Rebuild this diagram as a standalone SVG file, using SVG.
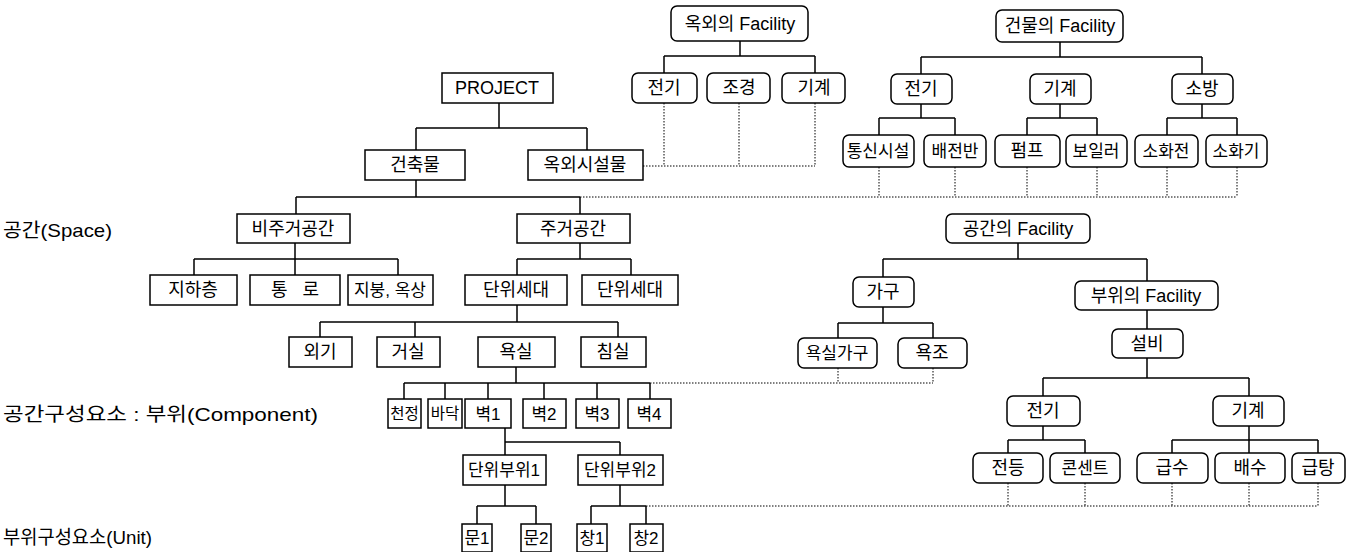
<svg xmlns="http://www.w3.org/2000/svg" width="1367" height="552" viewBox="0 0 1367 552">
<style>
.b{fill:#fff;stroke:#000;stroke-width:1.5}
.t{font-family:"Liberation Sans","Noto Sans CJK KR",sans-serif;font-size:18px;text-anchor:middle;fill:#000}
.sm{font-size:17px}
.xs{font-size:15.5px}
.l{font-family:"Liberation Sans","Noto Sans CJK KR",sans-serif;font-size:19px;fill:#000}
.s{fill:none;stroke:#000;stroke-width:1.5}
.d{fill:none;stroke:#000;stroke-width:1;stroke-dasharray:1.5 1.5}
</style>
<rect width="1367" height="552" fill="#fff"/>
<g id="labels">
<text class="l" x="3" y="237" textLength="109" lengthAdjust="spacingAndGlyphs">공간(Space)</text>
<text class="l" x="3" y="421" textLength="315" lengthAdjust="spacingAndGlyphs">공간구성요소 : 부위(Component)</text>
<text class="l" x="3" y="544" textLength="149" lengthAdjust="spacingAndGlyphs">부위구성요소(Unit)</text>
</g>
<g id="connectors">
<path class="s" d="M740 41V56M664 56H815M664 56V73M815 56V73"/>
<path class="s" d="M1060 42V57M921 57H1202M921 57V74M1202 57V74"/>
<path class="s" d="M921 104V118M879 118H955M879 118V135M955 118V135"/>
<path class="s" d="M1060 104V118M1027 118H1097M1027 118V135M1097 118V135"/>
<path class="s" d="M1202 104V118M1167 118H1237M1167 118V135M1237 118V135"/>
<path class="s" d="M499 103V128M416 128H587M416 128V150M587 128V150"/>
<path class="s" d="M416 180V197M296 197H580M296 197V214M580 197V214"/>
<path class="s" d="M295 243V259M194 259H398M194 259V275M295 259V275M398 259V275"/>
<path class="s" d="M580 243V259M517 259H631M517 259V275M631 259V275"/>
<path class="s" d="M517 305V322M320 322H618M320 322V337M415 322V337M618 322V337"/>
<path class="s" d="M516 367V383M404 383H650M404 383V399M445 383V399M488 383V399M544 383V399M597 383V399M650 383V399"/>
<path class="s" d="M505 428V442M505 442H620M505 442V455M620 442V455"/>
<path class="s" d="M505 485V506M477 506H536M477 506V524M536 506V524"/>
<path class="s" d="M620 485V506M591 506H646M591 506V524M646 506V524"/>
<path class="s" d="M1018 243V259M883 259H1147M883 259V277M1147 259V281"/>
<path class="s" d="M883 307V323M838 323H933M838 323V338M933 323V338"/>
<path class="s" d="M1147 310V329M1147 358V378M1043 378H1249M1043 378V396M1249 378V396"/>
<path class="s" d="M1043 426V440M1008 440H1085M1008 440V453M1085 440V453"/>
<path class="s" d="M1249 426V440M1172 440H1318M1172 440V453M1249 440V453M1318 440V453"/>
<path class="d" d="M664 103V166M739 103V166M815 103V166M643 166H815"/>
<path class="d" d="M879 167V197M955 167V197M1027 167V197M1097 167V197M1167 167V197M1237 167V197M580 197H1237"/>
<path class="d" d="M838 368V383M933 368V383M650 383H933"/>
<path class="d" d="M1008 483V506M1085 483V506M1172 483V506M1249 483V506M1318 483V506M646 506H1318"/>
</g>
<g id="n_outdoor_facility"><rect class="b" x="671" y="6" width="137" height="35" rx="6"/><text class="t" x="740" y="30">옥외의 Facility</text></g>
<g id="n_building_facility"><rect class="b" x="996" y="10" width="127" height="32" rx="6"/><text class="t" x="1060" y="32">건물의 Facility</text></g>
<g id="n_project"><rect class="b" x="442" y="73" width="111" height="30"/><text class="t" x="497" y="94">PROJECT</text></g>
<g id="n_o_elec"><rect class="b" x="632" y="73" width="65" height="30" rx="6"/><text class="t" x="664" y="94">전기</text></g>
<g id="n_o_land"><rect class="b" x="707" y="73" width="63" height="30" rx="6"/><text class="t" x="739" y="94">조경</text></g>
<g id="n_o_mech"><rect class="b" x="782" y="73" width="63" height="30" rx="6"/><text class="t" x="814" y="94">기계</text></g>
<g id="n_b_elec"><rect class="b" x="891" y="74" width="61" height="30" rx="6"/><text class="t" x="921" y="95">전기</text></g>
<g id="n_b_mech"><rect class="b" x="1030" y="74" width="61" height="30" rx="6"/><text class="t" x="1060" y="95">기계</text></g>
<g id="n_b_fire"><rect class="b" x="1172" y="74" width="61" height="30" rx="6"/><text class="t" x="1202" y="95">소방</text></g>
<g id="n_comm"><rect class="b" x="843" y="135" width="71" height="32" rx="6"/><text class="t sm" x="878" y="157">통신시설</text></g>
<g id="n_panel"><rect class="b" x="924" y="135" width="62" height="32" rx="6"/><text class="t sm" x="955" y="157">배전반</text></g>
<g id="n_pump"><rect class="b" x="995" y="135" width="65" height="32" rx="6"/><text class="t" x="1027" y="157">펌프</text></g>
<g id="n_boiler"><rect class="b" x="1066" y="135" width="61" height="32" rx="6"/><text class="t sm" x="1096" y="157">보일러</text></g>
<g id="n_hydrant"><rect class="b" x="1135" y="135" width="63" height="32" rx="6"/><text class="t sm" x="1166" y="157">소화전</text></g>
<g id="n_extinguisher"><rect class="b" x="1206" y="135" width="61" height="32" rx="6"/><text class="t sm" x="1236" y="157">소화기</text></g>
<g id="n_building"><rect class="b" x="365" y="150" width="100" height="30"/><text class="t" x="415" y="171">건축물</text></g>
<g id="n_outdoor_structure"><rect class="b" x="528" y="150" width="115" height="30"/><text class="t" x="585" y="171">옥외시설물</text></g>
<g id="n_non_res"><rect class="b" x="237" y="214" width="113" height="29"/><text class="t" x="293" y="235">비주거공간</text></g>
<g id="n_res"><rect class="b" x="517" y="214" width="113" height="29"/><text class="t" x="573" y="235">주거공간</text></g>
<g id="n_basement"><rect class="b" x="150" y="275" width="87" height="30"/><text class="t" x="193" y="296">지하층</text></g>
<g id="n_passage"><rect class="b" x="250" y="275" width="90" height="30"/><text class="t" x="295" y="296" style="white-space:pre">통   로</text></g>
<g id="n_roof"><rect class="b" x="348" y="275" width="85" height="30"/><text class="t sm" x="390" y="296">지붕, 옥상</text></g>
<g id="n_unit_house1"><rect class="b" x="465" y="275" width="102" height="30"/><text class="t" x="516" y="296">단위세대</text></g>
<g id="n_unit_house2"><rect class="b" x="582" y="275" width="96" height="30"/><text class="t" x="630" y="296">단위세대</text></g>
<g id="n_space_facility"><rect class="b" x="946" y="214" width="144" height="29" rx="6"/><text class="t" x="1018" y="235">공간의 Facility</text></g>
<g id="n_furniture"><rect class="b" x="853" y="277" width="61" height="30" rx="6"/><text class="t" x="883" y="298">가구</text></g>
<g id="n_part_facility"><rect class="b" x="1075" y="281" width="143" height="29" rx="6"/><text class="t" x="1146" y="302">부위의 Facility</text></g>
<g id="n_exterior"><rect class="b" x="289" y="337" width="63" height="30"/><text class="t" x="320" y="358">외기</text></g>
<g id="n_living"><rect class="b" x="377" y="337" width="63" height="30"/><text class="t" x="408" y="358">거실</text></g>
<g id="n_bath"><rect class="b" x="478" y="337" width="77" height="30"/><text class="t" x="516" y="358">욕실</text></g>
<g id="n_bed"><rect class="b" x="581" y="337" width="65" height="30"/><text class="t" x="613" y="358">침실</text></g>
<g id="n_bath_furniture"><rect class="b" x="798" y="338" width="79" height="30" rx="6"/><text class="t sm" x="837" y="359">욕실가구</text></g>
<g id="n_bathtub"><rect class="b" x="898" y="338" width="69" height="30" rx="6"/><text class="t" x="932" y="359">욕조</text></g>
<g id="n_equipment"><rect class="b" x="1112" y="329" width="71" height="29" rx="6"/><text class="t" x="1147" y="350">설비</text></g>
<g id="n_ceiling"><rect class="b" x="388" y="399" width="33" height="29"/><text class="t xs" x="404.5" y="419">천정</text></g>
<g id="n_floor"><rect class="b" x="428" y="399" width="34" height="29"/><text class="t xs" x="445" y="419">바닥</text></g>
<g id="n_wall1"><rect class="b" x="465" y="399" width="46" height="29"/><text class="t sm" x="488" y="420">벽1</text></g>
<g id="n_wall2"><rect class="b" x="523" y="399" width="43" height="29"/><text class="t sm" x="544" y="420">벽2</text></g>
<g id="n_wall3"><rect class="b" x="576" y="399" width="43" height="29"/><text class="t sm" x="597" y="420">벽3</text></g>
<g id="n_wall4"><rect class="b" x="628" y="399" width="43" height="29"/><text class="t sm" x="649" y="420">벽4</text></g>
<g id="n_p_elec"><rect class="b" x="1007" y="396" width="73" height="30" rx="6"/><text class="t" x="1043" y="417">전기</text></g>
<g id="n_p_mech"><rect class="b" x="1213" y="396" width="71" height="30" rx="6"/><text class="t" x="1248" y="417">기계</text></g>
<g id="n_unit_part1"><rect class="b" x="463" y="455" width="83" height="30"/><text class="t sm" x="504" y="476">단위부위1</text></g>
<g id="n_unit_part2"><rect class="b" x="578" y="455" width="85" height="30"/><text class="t sm" x="620" y="476">단위부위2</text></g>
<g id="n_lamp"><rect class="b" x="973" y="453" width="70" height="30" rx="6"/><text class="t" x="1008" y="474">전등</text></g>
<g id="n_outlet"><rect class="b" x="1050" y="453" width="70" height="30" rx="6"/><text class="t sm" x="1085" y="474">콘센트</text></g>
<g id="n_supply"><rect class="b" x="1137" y="453" width="71" height="30" rx="6"/><text class="t" x="1172" y="474">급수</text></g>
<g id="n_drain"><rect class="b" x="1215" y="453" width="70" height="30" rx="6"/><text class="t" x="1250" y="474">배수</text></g>
<g id="n_hotwater"><rect class="b" x="1292" y="453" width="53" height="30" rx="6"/><text class="t" x="1318" y="474">급탕</text></g>
<g id="n_door1"><rect class="b" x="462" y="524" width="30" height="28"/><text class="t sm" x="477" y="544">문1</text></g>
<g id="n_door2"><rect class="b" x="521" y="524" width="30" height="28"/><text class="t sm" x="536" y="544">문2</text></g>
<g id="n_win1"><rect class="b" x="577" y="524" width="30" height="28"/><text class="t sm" x="592" y="544">창1</text></g>
<g id="n_win2"><rect class="b" x="630" y="524" width="33" height="28"/><text class="t sm" x="646" y="544">창2</text></g>
</svg>
